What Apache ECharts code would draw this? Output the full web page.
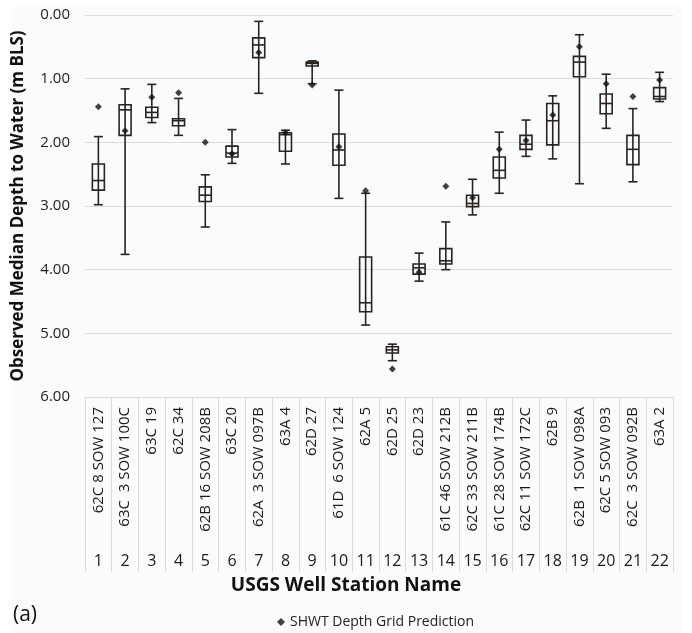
<!DOCTYPE html>
<html>
<head>
<meta charset="utf-8">
<script src="https://cdn.jsdelivr.net/npm/echarts@6/dist/echarts.min.js"></script>
<style>
  html, body { margin: 0; padding: 0; background: #ffffff; }
  #chart { width: 692px; height: 633px; }
</style>
</head>
<body>
<div id="chart"></div>
<script>
// Well station names and their sequence numbers
const stations = [
  '62C 8 SOW 127', '63C  3 SOW 100C', '63C 19', '62C 34', '62B 16 SOW 208B',
  '63C 20', '62A  3 SOW 097B', '63A 4', '62D 27', '61D  6 SOW 124',
  '62A 5', '62D 25', '62D 23', '61C 46 SOW 212B', '62C 33 SOW 211B',
  '61C 28 SOW 174B', '62C 11 SOW 172C', '62B 9', '62B  1 SOW 098A',
  '62C 5 SOW 093', '62C  3 SOW 092B', '63A 2'
];
const stationNumbers = stations.map((_, i) => String(i + 1));

// Observed depth to water (m below land surface): whisker ends, quartiles, median
const whiskerLow  = [1.91, 1.16, 1.09, 1.31, 2.51, 1.80, 0.10, 1.81, 0.72, 1.18, 2.80, 5.17, 3.74, 3.25, 2.58, 1.84, 1.65, 1.27, 0.31, 0.93, 1.47, 0.90];
const quartile1   = [2.34, 1.41, 1.45, 1.63, 2.70, 2.06, 0.36, 1.85, 0.74, 1.87, 3.80, 5.21, 3.91, 3.67, 2.83, 2.23, 1.89, 1.39, 0.65, 1.24, 1.89, 1.14];
const medians     = [2.60, 1.49, 1.53, 1.66, 2.83, 2.17, 0.47, 1.88, 0.76, 2.12, 4.52, 5.26, 3.97, 3.86, 2.96, 2.44, 2.03, 1.66, 0.74, 1.39, 2.11, 1.28];
const quartile3   = [2.75, 1.89, 1.61, 1.74, 2.93, 2.23, 0.67, 2.14, 0.80, 2.36, 4.66, 5.31, 4.07, 3.91, 3.01, 2.56, 2.11, 2.04, 0.97, 1.55, 2.35, 1.32];
const whiskerHigh = [2.98, 3.76, 1.69, 1.89, 3.33, 2.33, 1.23, 2.34, 1.08, 2.88, 4.87, 5.43, 4.18, 4.00, 3.14, 2.80, 2.22, 2.26, 2.65, 1.78, 2.62, 1.36];

// SHWT depth grid prediction at each well
const predicted   = [1.44, 1.82, 1.29, 1.22, 2.00, 2.18, 0.59, 1.85, 1.10, 2.07, 2.76, 5.56, 4.04, 2.69, 2.87, 2.11, 1.97, 1.57, 0.50, 1.08, 1.28, 1.02];

const yTicks = [0, 1, 2, 3, 4, 5, 6];

const boxData = stations.map((_, i) => [i, whiskerLow[i], quartile1[i], medians[i], quartile3[i], whiskerHigh[i]]);
const predData = predicted.map((v, i) => [i, v]);

const ink = '#2a2320';
const font = '"Open Sans", "Noto Sans", sans-serif';

function renderBox(params, api) {
  const x = api.value(0);
  const pLow = api.coord([x, api.value(1)]);
  const pQ1 = api.coord([x, api.value(2)]);
  const pMed = api.coord([x, api.value(3)]);
  const pQ3 = api.coord([x, api.value(4)]);
  const pHigh = api.coord([x, api.value(5)]);
  const cx = pLow[0];
  const halfBox = 6;
  const halfCap = 4.5;
  const style = { stroke: ink, lineWidth: 1.6, fill: null };
  return {
    type: 'group',
    children: [
      { type: 'line', shape: { x1: cx, y1: pLow[1], x2: cx, y2: pHigh[1] }, style },
      { type: 'line', shape: { x1: cx - halfCap, y1: pLow[1], x2: cx + halfCap, y2: pLow[1] }, style },
      { type: 'line', shape: { x1: cx - halfCap, y1: pHigh[1], x2: cx + halfCap, y2: pHigh[1] }, style },
      { type: 'rect', shape: { x: cx - halfBox, y: Math.min(pQ1[1], pQ3[1]), width: halfBox * 2, height: Math.abs(pQ3[1] - pQ1[1]) }, style },
      { type: 'line', shape: { x1: cx - halfBox, y1: pMed[1], x2: cx + halfBox, y2: pMed[1] }, style }
    ]
  };
}

const chart = echarts.init(document.getElementById('chart'));
chart.setOption({
  backgroundColor: '#ffffff',
  animation: false,
  textStyle: { fontFamily: font },
  graphic: [
    { type: 'rect', left: 12, top: 6, z: -10, shape: { width: 670, height: 627 }, style: { fill: '#fafbfd' } },
    { type: 'text', left: 'center', top: 576, style: { text: 'USGS Well Station Name', font: 'bold 19px ' + font, fill: '#111' }, x: 33 },
    { type: 'text', left: 13, top: 605, style: { text: '(a)', font: '21px ' + font, fill: '#111' } }
  ],
  legend: {
    left: 272, top: 610,
    itemWidth: 8, itemHeight: 8, itemGap: 6,
    textStyle: { fontSize: 14, color: '#222', fontFamily: font },
    data: [{ name: 'SHWT Depth Grid Prediction', icon: 'diamond' }]
  },
  grid: { left: 85, right: 19, top: 15, bottom: 236, containLabel: false },
  xAxis: [
    {
      type: 'category',
      data: stations,
      position: 'bottom',
      axisLine: { show: true, onZero: false, lineStyle: { color: '#dcdcdc', width: 1 } },
      axisTick: { show: true, inside: false, length: 175, lineStyle: { color: '#dcdcdc', width: 1 } },
      axisLabel: { rotate: 90, margin: 10, fontSize: 15, color: '#1a1a1a', fontFamily: font, interval: 0 },
      splitLine: { show: false }
    },
    {
      type: 'category',
      data: stationNumbers,
      position: 'bottom',
      axisLine: { show: false, onZero: false },
      axisTick: { show: false },
      axisLabel: { margin: 156, fontSize: 16, color: '#1a1a1a', fontFamily: font, interval: 0 },
      splitLine: { show: false }
    }
  ],
  yAxis: {
    type: 'value',
    inverse: true,
    min: yTicks[0],
    max: yTicks[yTicks.length - 1],
    interval: 1,
    name: 'Observed Median Depth to Water (m BLS)',
    nameLocation: 'middle',
    nameGap: 58,
    nameTextStyle: { fontSize: 17, fontWeight: 'bold', color: '#111', fontFamily: font },
    axisLine: { show: false },
    axisTick: { show: false },
    axisLabel: { margin: 15, fontSize: 15, color: '#222', formatter: v => v.toFixed(2) },
    splitLine: { lineStyle: { color: '#dcdcdc', width: 1.2 } }
  },
  series: [
    {
      name: 'Observed',
      type: 'custom',
      xAxisIndex: 0,
      renderItem: renderBox,
      encode: { x: 0, y: [1, 2, 3, 4, 5] },
      data: boxData,
      z: 2
    },
    {
      name: 'SHWT Depth Grid Prediction',
      type: 'scatter',
      xAxisIndex: 0,
      symbol: 'diamond',
      symbolSize: 7,
      itemStyle: { color: '#111' },
      data: predData,
      z: 3
    }
  ]
});
</script>
</body>
</html>
